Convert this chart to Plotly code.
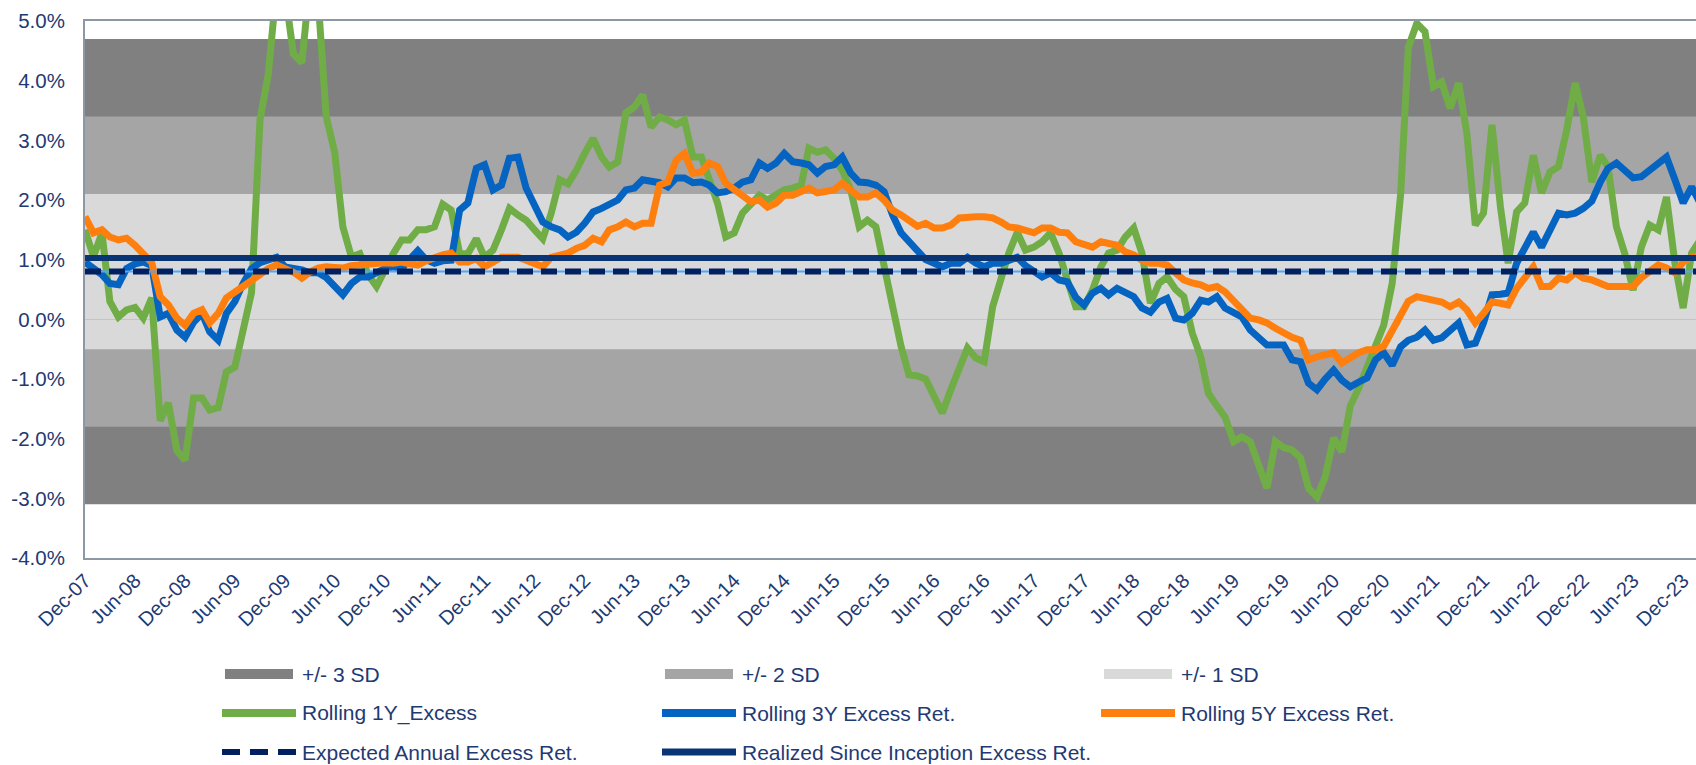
import pandas as pd
import plotly.graph_objects as go

# ---------------- data (percent) ----------------
rolling_1y = [
    1.5, 1.05, 1.45, 0.3, 0.04, 0.16, 0.2, 0.02, 0.36, -1.7, -1.4, -2.2,
    -2.36, -1.32, -1.32, -1.52, -1.48, -0.88, -0.8, -0.15, 0.45, 3.35, 4.1, 5.6,
    5.5, 4.45, 4.3, 5.6, 5.4, 3.4, 2.8, 1.55, 1.05, 1.1, 0.75, 0.55,
    0.85, 1.1, 1.33, 1.33, 1.5, 1.5, 1.55, 1.93, 1.83, 1.1, 1.1, 1.35,
    1.04, 1.16, 1.5, 1.86, 1.75, 1.66, 1.5, 1.35, 1.78, 2.34, 2.27, 2.5,
    2.78, 3.03, 2.72, 2.55, 2.64, 3.46, 3.56, 3.76, 3.22, 3.39, 3.34, 3.26,
    3.34, 2.72, 2.72, 2.39, 1.95, 1.38, 1.45, 1.78, 1.95, 2.08, 2.0, 2.08,
    2.17, 2.2, 2.25, 2.87, 2.8, 2.84, 2.7, 2.5, 2.17, 1.55, 1.66, 1.55,
    0.9, 0.3, -0.45, -0.93, -0.95, -1.0, -1.3, -1.57, -1.18, -0.8, -0.48, -0.65,
    -0.71, 0.21, 0.66, 1.11, 1.46, 1.16, 1.21, 1.3, 1.45, 1.11, 0.66, 0.21,
    0.21, 0.49, 0.88, 1.11, 1.16, 1.38, 1.53, 1.11, 0.27, 0.6, 0.71, 0.5,
    0.38, -0.23, -0.63, -1.24, -1.45, -1.64, -2.05, -1.97, -2.05, -2.45, -2.83, -2.05,
    -2.15, -2.19, -2.32, -2.83, -2.98, -2.64, -1.99, -2.22, -1.45, -1.15, -0.8, -0.45,
    -0.1, 0.6, 2.1, 4.56, 4.96, 4.82, 3.9, 3.98, 3.54, 3.96, 3.12, 1.58,
    1.78, 3.26, 1.88, 0.94, 1.8, 1.95, 2.75, 2.12, 2.47, 2.56, 3.17, 3.96,
    3.39, 2.3, 2.75, 2.56, 1.55, 1.11, 0.49, 1.21, 1.58, 1.5, 2.05, 0.94,
    0.19, 1.11, 1.33,
]

rolling_3y = [
    0.96, 0.86, 0.75, 0.6, 0.58, 0.85, 0.93, 0.96, 0.9, 0.04, 0.1, -0.18,
    -0.3, -0.05, 0.1, -0.21, -0.35, 0.1, 0.3, 0.6, 0.85, 0.95, 0.99, 1.04,
    0.88, 0.86, 0.83, 0.78, 0.78, 0.7, 0.55, 0.41, 0.6, 0.71, 0.71, 0.78,
    0.85, 0.88, 0.85, 1.0, 1.15, 1.0, 0.94, 0.98, 0.99, 1.83, 1.95, 2.53,
    2.59, 2.17, 2.25, 2.7, 2.72, 2.2, 1.92, 1.63, 1.55, 1.5, 1.38, 1.46,
    1.61, 1.8, 1.86, 1.92, 2.0, 2.17, 2.2, 2.34, 2.3, 2.29, 2.22, 2.37,
    2.37, 2.29, 2.3, 2.25, 2.12, 2.14, 2.2, 2.3, 2.34, 2.62, 2.53, 2.62,
    2.78, 2.64, 2.62, 2.59, 2.45, 2.56, 2.59, 2.72, 2.45, 2.3, 2.29, 2.25,
    2.14, 1.75, 1.45, 1.3, 1.15, 1.0, 0.94, 0.88, 0.94, 0.94, 1.04, 0.94,
    0.88, 0.94, 0.94, 0.98, 1.04, 0.9, 0.8, 0.71, 0.78, 0.66, 0.63, 0.37,
    0.24, 0.44, 0.52, 0.41, 0.52, 0.44, 0.38, 0.19, 0.12, 0.29, 0.35, 0.02,
    -0.01, 0.1, 0.32, 0.29, 0.38, 0.19, 0.12, 0.04, -0.18, -0.31, -0.43, -0.43,
    -0.43, -0.68, -0.71, -1.07, -1.18, -1.0, -0.85, -1.02, -1.13, -1.05, -0.98, -0.68,
    -0.56, -0.77, -0.46, -0.35, -0.3, -0.18, -0.35, -0.31, -0.2, -0.06, -0.43, -0.4,
    -0.06, 0.41, 0.42, 0.44, 0.94, 1.21, 1.46, 1.21, 1.5, 1.78, 1.75, 1.78,
    1.86, 1.98, 2.3, 2.53, 2.62, 2.5, 2.37, 2.39, 2.5, 2.6, 2.72, 2.34,
    1.95, 2.22, 1.95,
]

rolling_5y = [
    1.72, 1.45, 1.5, 1.38, 1.33, 1.36, 1.24, 1.11, 0.95, 0.38, 0.24, 0.02,
    -0.1, 0.1, 0.16, -0.06, 0.1, 0.36, 0.44, 0.55, 0.65, 0.75, 0.85, 0.91,
    0.86, 0.79, 0.69, 0.79, 0.86, 0.88, 0.87, 0.86, 0.9, 0.92, 0.94, 0.96,
    0.95, 0.94, 0.96, 0.93, 0.91, 0.98, 1.04, 1.08, 1.11, 0.96, 0.96, 1.02,
    0.88, 0.96, 1.04, 1.04, 1.04, 0.99, 0.94, 0.88, 1.04, 1.08, 1.11, 1.19,
    1.24, 1.36, 1.3, 1.5, 1.55, 1.63, 1.55, 1.61, 1.61, 2.25, 2.3, 2.67,
    2.78, 2.45, 2.47, 2.62, 2.56, 2.28, 2.17, 2.05, 1.97, 2.0, 1.88, 1.95,
    2.08, 2.08, 2.14, 2.2, 2.12, 2.14, 2.17, 2.28, 2.17, 2.05, 2.05, 2.12,
    2.0, 1.83, 1.75, 1.66, 1.56, 1.61, 1.53, 1.53, 1.58, 1.7, 1.72, 1.72,
    1.72, 1.7, 1.63, 1.55, 1.53, 1.5, 1.45, 1.53, 1.53, 1.46, 1.45, 1.3,
    1.24, 1.21, 1.3, 1.28, 1.24, 1.13, 1.08, 0.99, 0.94, 0.94, 0.91, 0.78,
    0.66, 0.61, 0.58, 0.52, 0.55, 0.46, 0.32, 0.16, 0.02, -0.01, -0.06, -0.15,
    -0.23, -0.3, -0.35, -0.68, -0.63, -0.6, -0.56, -0.73, -0.63, -0.56, -0.51, -0.51,
    -0.45, -0.2, 0.1, 0.3, 0.38, 0.36, 0.32, 0.29, 0.21, 0.29, 0.16, -0.06,
    0.1, 0.29, 0.27, 0.24, 0.52, 0.69, 0.88, 0.55, 0.55, 0.69, 0.66, 0.78,
    0.69, 0.66, 0.6, 0.55, 0.55, 0.55, 0.55, 0.7, 0.82, 0.91, 0.86, 0.78,
    0.96, 1.04, 1.05,
]

expected_excess = 0.80
realized_excess = 1.03

band_names = ["+/- 3 SD", "+/- 2 SD", "+/- 1 SD"]
band_low = [-3.1, -1.8, -0.5]
band_high = [4.7, 3.4, 2.1]

series_names = ["Rolling 1Y_Excess", "Rolling 3Y Excess Ret.", "Rolling 5Y Excess Ret."]
line_names = ["Expected Annual Excess Ret.", "Realized Since Inception Excess Ret."]

first_month = "2007-12-01"
x_range = ["2007-12-01", "2024-01-17"]

x_tick_labels = [
    "Dec-07", "Jun-08", "Dec-08", "Jun-09", "Dec-09", "Jun-10", "Dec-10", "Jun-11",
    "Dec-11", "Jun-12", "Dec-12", "Jun-13", "Dec-13", "Jun-14", "Dec-14", "Jun-15",
    "Dec-15", "Jun-16", "Dec-16", "Jun-17", "Dec-17", "Jun-18", "Dec-18", "Jun-19",
    "Dec-19", "Jun-20", "Dec-20", "Jun-21", "Dec-21", "Jun-22", "Dec-22", "Jun-23",
    "Dec-23",
]
y_tick_vals = [-4, -3, -2, -1, 0, 1, 2, 3, 4, 5]
y_tick_labels = ["-4.0%", "-3.0%", "-2.0%", "-1.0%", "0.0%", "1.0%", "2.0%", "3.0%", "4.0%", "5.0%"]

# ---------------- styling ----------------
W, H = 1696, 765
M_L, M_R, M_T, M_B = 85, 0, 21, 207
PLOT_W = W - M_L - M_R
PLOT_H = H - M_T - M_B

TEXT_COLOR = "#1F3A73"
FONT = "Arial, Liberation Sans, sans-serif"
band_colors = ["#808080", "#A5A5A5", "#D9D9D9"]
series_colors = ["#70AD47", "#0563C1", "#FF7F0E"]
expected_color = "#002060"
expected_under_color = "#4DA6FF"
realized_color = "#0A3575"
border_color = "#8C98A4"

months = pd.date_range(first_month, periods=len(rolling_1y), freq="MS")
tick_dates = pd.date_range(first_month, periods=len(x_tick_labels), freq="6MS")

fig = go.Figure()

# SD bands as shapes on the y scale
shapes = []
for lo, hi, col in zip(band_low, band_high, band_colors):
    shapes.append(dict(type="rect", xref="paper", yref="y", x0=0, x1=1, y0=lo, y1=hi,
                       fillcolor=col, line=dict(width=0), layer="below"))

# rolling series
for vals, name, col in zip([rolling_1y, rolling_3y, rolling_5y], series_names, series_colors):
    fig.add_trace(go.Scatter(x=months, y=vals, mode="lines", name=name,
                             line=dict(color=col, width=7), showlegend=False))

# realized line
fig.add_trace(go.Scatter(x=[months[0], months[-1]], y=[realized_excess, realized_excess],
                         mode="lines", name=line_names[1],
                         line=dict(color=realized_color, width=6), showlegend=False))
# expected line (thin light-blue under a dashed navy line)
fig.add_trace(go.Scatter(x=[months[0], months[-1]], y=[expected_excess, expected_excess],
                         mode="lines", line=dict(color=expected_under_color, width=2),
                         showlegend=False, hoverinfo="skip"))
fig.add_trace(go.Scatter(x=[months[0], months[-1]], y=[expected_excess, expected_excess],
                         mode="lines", name=line_names[0],
                         line=dict(color=expected_color, width=6, dash="16px,8px"),
                         showlegend=False))


# ---------------- manual legend ----------------
def px_x(x):
    return (x - M_L) / PLOT_W


def px_y(y):
    return (M_T + PLOT_H - y) / PLOT_H


legend_cols_swatch = [222, 662, 1101]
legend_cols_text = [300, 740, 1179]
legend_rows = [674, 713, 752]
SW_LEN = 74

annotations = []


def legend_text(col, row, text):
    annotations.append(dict(xref="paper", yref="paper", x=px_x(legend_cols_text[col]),
                            y=px_y(legend_rows[row]), text=text, showarrow=False,
                            xanchor="left", yanchor="middle",
                            font=dict(family=FONT, size=21, color=TEXT_COLOR)))


for i, (name, col) in enumerate(zip(band_names, band_colors)):
    x0 = legend_cols_swatch[i] + 3
    shapes.append(dict(type="rect", xref="paper", yref="paper",
                       x0=px_x(x0), x1=px_x(x0 + 68),
                       y0=px_y(legend_rows[0] - 5), y1=px_y(legend_rows[0] + 5),
                       fillcolor=col, line=dict(width=0), layer="above"))
    legend_text(i, 0, name)

for i, (name, col) in enumerate(zip(series_names, series_colors)):
    x0 = legend_cols_swatch[i]
    shapes.append(dict(type="line", xref="paper", yref="paper",
                       x0=px_x(x0), x1=px_x(x0 + SW_LEN),
                       y0=px_y(legend_rows[1]), y1=px_y(legend_rows[1]),
                       line=dict(color=col, width=8), layer="above"))
    legend_text(i, 1, name)

shapes.append(dict(type="line", xref="paper", yref="paper",
                   x0=px_x(legend_cols_swatch[0]), x1=px_x(legend_cols_swatch[0] + SW_LEN),
                   y0=px_y(legend_rows[2]), y1=px_y(legend_rows[2]),
                   line=dict(color=expected_color, width=6, dash="18px,10px"), layer="above"))
legend_text(0, 2, line_names[0])
shapes.append(dict(type="line", xref="paper", yref="paper",
                   x0=px_x(legend_cols_swatch[1]), x1=px_x(legend_cols_swatch[1] + SW_LEN),
                   y0=px_y(legend_rows[2]), y1=px_y(legend_rows[2]),
                   line=dict(color=realized_color, width=7), layer="above"))
legend_text(1, 2, line_names[1])

fig.update_layout(
    width=W, height=H,
    margin=dict(l=M_L, r=M_R, t=M_T, b=M_B, pad=0),
    paper_bgcolor="white", plot_bgcolor="white",
    shapes=shapes, annotations=annotations,
    showlegend=False,
    font=dict(family=FONT, color=TEXT_COLOR),
    xaxis=dict(type="date", range=x_range, tickvals=tick_dates, ticktext=x_tick_labels,
               tickangle=-45, tickfont=dict(family=FONT, size=20, color=TEXT_COLOR),
               showgrid=False, zeroline=False, showline=True, mirror=True,
               linecolor=border_color, linewidth=2, ticks="", ticklabelstandoff=1,
               automargin=False),
    yaxis=dict(range=[-4, 5], tickvals=y_tick_vals, ticktext=y_tick_labels,
               tickfont=dict(family=FONT, size=20.5, color=TEXT_COLOR),
               showgrid=False, zeroline=True, zerolinecolor="#C4C4C4", zerolinewidth=1,
               showline=True, mirror=False, linecolor=border_color, linewidth=2,
               ticks="", ticklabelstandoff=14, automargin=False),
)

fig.write_html(
    "out.html",
    config={"displayModeBar": False},
    post_script="document.body.style.margin='0px';document.body.style.padding='0px';"
                "document.body.style.overflow='hidden';",
)
